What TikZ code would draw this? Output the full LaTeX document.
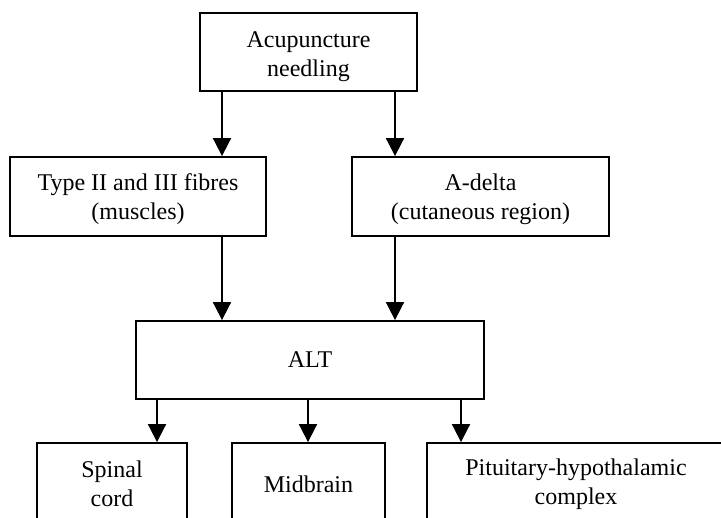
\documentclass[tikz,border=0pt]{standalone}
\usepackage{fontspec}
\setmainfont{Liberation Serif}
\usetikzlibrary{arrows.meta}
\newcommand\lowtext[2]{\raisebox{-#1}[\height][\depth]{\begin{tabular}{@{}c@{}}#2\end{tabular}}}
\begin{document}
\begin{tikzpicture}[x=1pt,y=-1pt,
  box/.style={draw,line width=1.8pt,inner sep=0pt,align=center,
    font=\fontsize{24}{29}\selectfont},
  arr/.style={line width=1.8pt,-{Triangle[length=18pt,width=18pt]}}]
\useasboundingbox (0,0) rectangle (721,518);
\clip (0,0) rectangle (721,518);
\fill[white] (0,0) rectangle (721,518);
\node[box,minimum width=217pt,minimum height=78pt] (top) at (308.5,52) {\lowtext{4pt}{Acupuncture\\needling}};
\node[box,minimum width=256pt,minimum height=79pt] (tl) at (138,196.5) {\lowtext{3pt}{Type II and III fibres\\(muscles)}};
\node[box,minimum width=257pt,minimum height=79pt] (tr) at (480.5,196.5) {\lowtext{3pt}{A-delta\\(cutaneous region)}};
\node[box,minimum width=348pt,minimum height=78pt] (alt) at (310,360) {ALT};
\node[box,minimum width=150pt,minimum height=82pt] (sp) at (112,484) {Spinal\\cord};
\node[box,minimum width=153pt,minimum height=82pt] (mb) at (308.5,484) {Midbrain};
\node[box,minimum width=298pt,minimum height=82pt] (ph) at (576,484) {Pituitary-hypothalamic\\complex};
\draw[arr] ([xshift=-86.5pt]top.south) -- ([xshift=-86.5pt]top.south |- tl.north);
\draw[arr] ([xshift=86.5pt]top.south) -- ([xshift=86.5pt]top.south |- tr.north);
\draw[arr] ([xshift=-86.5pt]top.south |- tl.south) -- ([xshift=-86.5pt]top.south |- alt.north);
\draw[arr] ([xshift=86.5pt]top.south |- tr.south) -- ([xshift=86.5pt]top.south |- alt.north);
\draw[arr] ([xshift=-153pt]alt.south) -- ([xshift=-153pt]alt.south |- sp.north);
\draw[arr] ([xshift=-2pt]alt.south) -- ([xshift=-2pt]alt.south |- mb.north);
\draw[arr] ([xshift=151pt]alt.south) -- ([xshift=151pt]alt.south |- ph.north);
\end{tikzpicture}
\end{document}
